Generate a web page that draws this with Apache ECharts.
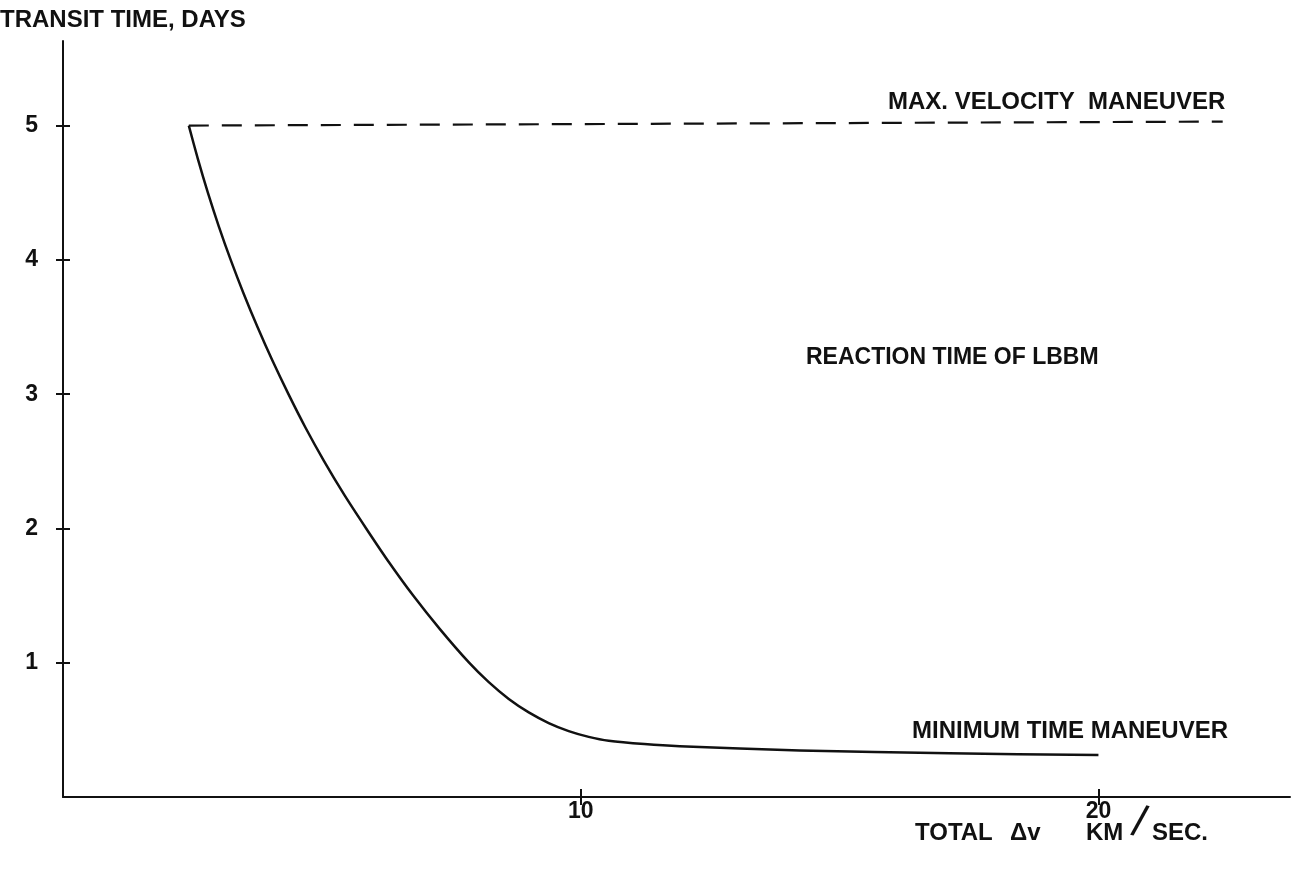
<!DOCTYPE html>
<html>
<head>
<meta charset="utf-8">
<title>Transit time vs total delta-v</title>
<script src="https://cdn.jsdelivr.net/npm/echarts@6/dist/echarts.min.js"></script>
<style>
  html, body { margin: 0; padding: 0; background: #ffffff; }
  #chart { width: 1306px; height: 870px; }
</style>
</head>
<body>
<div id="chart"></div>
<script>
// Minimum time maneuver: transit time (days) against total delta-v (km/sec)
const minTimeDv   = [2.43, 2.606, 2.798, 3.009, 3.239, 3.488, 3.757, 4.045, 4.355, 4.685, 5.045, 5.434, 5.856, 6.293, 6.764, 7.280, 7.844,
                     8.224, 8.610, 8.996, 9.382, 9.768, 10.154, 10.541, 11.23, 11.911, 14.228, 17.124, 20.0];
const minTimeDays = [5.00, 4.75, 4.50, 4.25, 4.00, 3.75, 3.50, 3.25, 3.00, 2.75, 2.50, 2.25, 2.00, 1.75, 1.50, 1.25, 1.00,
                     0.855, 0.730, 0.630, 0.551, 0.491, 0.448, 0.419, 0.394, 0.378, 0.347, 0.325, 0.313];

// Max velocity maneuver: dashed bound at five days
const maxVelDv   = [2.43, 22.4];
const maxVelDays = [5.0, 5.03];

// Axis ticks
const xTicks = [10, 20];
const yTicks = [1, 2, 3, 4, 5];

const INK = '#111111';
const FONT = 'Liberation Sans';
const LETTER = `bold 24px "${FONT}"`;

const pairs = (xs, ys) => xs.map((x, i) => [x, ys[i]]);

const chart = echarts.init(document.getElementById('chart'), null, { renderer: 'canvas' });

const option = {
  backgroundColor: '#ffffff',
  animation: false,
  grid: { left: 63, right: 16, top: 41, bottom: 73, containLabel: false },
  xAxis: [
    {
      type: 'value', min: 0, max: 23.7, interval: 10,
      axisLine: { show: true, onZero: false, lineStyle: { color: INK, width: 2 } },
      axisTick: { show: true, length: 8, inside: false, lineStyle: { color: INK, width: 2 },
                  customValues: xTicks },
      axisLabel: { show: true, color: INK, fontFamily: FONT, fontWeight: 'bold', fontSize: 23, margin: 3,
                   customValues: xTicks, formatter: v => xTicks.includes(v) ? String(v) : '' },
      splitLine: { show: false }
    },
    {
      type: 'value', min: 0, max: 23.7, interval: 10, position: 'bottom',
      axisLine: { show: false },
      axisTick: { show: true, length: 8, inside: true, lineStyle: { color: INK, width: 2 },
                  customValues: xTicks },
      axisLabel: { show: false },
      splitLine: { show: false }
    }
  ],
  yAxis: [
    {
      type: 'value', min: 0, max: 5.63, interval: 1,
      axisLine: { show: true, onZero: false, lineStyle: { color: INK, width: 2 } },
      axisTick: { show: true, length: 7, inside: false, lineStyle: { color: INK, width: 2 },
                  customValues: yTicks },
      axisLabel: { show: true, color: INK, fontFamily: FONT, fontWeight: 'bold', fontSize: 23, margin: 25,
                   customValues: yTicks, formatter: v => yTicks.includes(v) ? String(v) : '' },
      splitLine: { show: false }
    },
    {
      type: 'value', min: 0, max: 5.63, interval: 1, position: 'left',
      axisLine: { show: false },
      axisTick: { show: true, length: 7, inside: true, lineStyle: { color: INK, width: 2 },
                  customValues: yTicks },
      axisLabel: { show: false },
      splitLine: { show: false }
    }
  ],
  series: [
    {
      name: 'MINIMUM TIME MANEUVER',
      type: 'line',
      data: pairs(minTimeDv, minTimeDays),
      smooth: 0.25,
      showSymbol: false,
      lineStyle: { color: INK, width: 2.5, join: 'round' }
    },
    {
      name: 'MAX. VELOCITY MANEUVER',
      type: 'line',
      data: pairs(maxVelDv, maxVelDays),
      showSymbol: false,
      lineStyle: { color: INK, width: 2.2, type: [20, 13] }
    }
  ],
  graphic: [
    { type: 'text', left: 0, top: 8,
      style: { text: 'TRANSIT TIME, DAYS', fill: INK, font: LETTER } },
    { type: 'text', left: 888, top: 90,
      style: { text: 'MAX. VELOCITY  MANEUVER', fill: INK, font: LETTER } },
    { type: 'text', left: 806, top: 346,
      style: { text: 'REACTION TIME OF LBBM', fill: INK, font: `bold 23px "${FONT}"` } },
    { type: 'text', left: 912, top: 719,
      style: { text: 'MINIMUM TIME MANEUVER', fill: INK, font: LETTER } },
    { type: 'text', left: 915, top: 821,
      style: { text: 'TOTAL', fill: INK, font: LETTER } },
    { type: 'text', left: 1010, top: 821,
      style: { text: '\u0394v', fill: INK, font: LETTER } },
    { type: 'text', left: 1086, top: 821,
      style: { text: 'KM', fill: INK, font: LETTER } },
    { type: 'text', x: 1139, y: 824, rotation: -0.24,
      style: { text: '/', fill: INK, font: `44px "${FONT}"`, align: 'center', verticalAlign: 'middle' } },
    { type: 'text', left: 1152, top: 821,
      style: { text: 'SEC.', fill: INK, font: LETTER } }
  ]
};

chart.setOption(option);
</script>
</body>
</html>
